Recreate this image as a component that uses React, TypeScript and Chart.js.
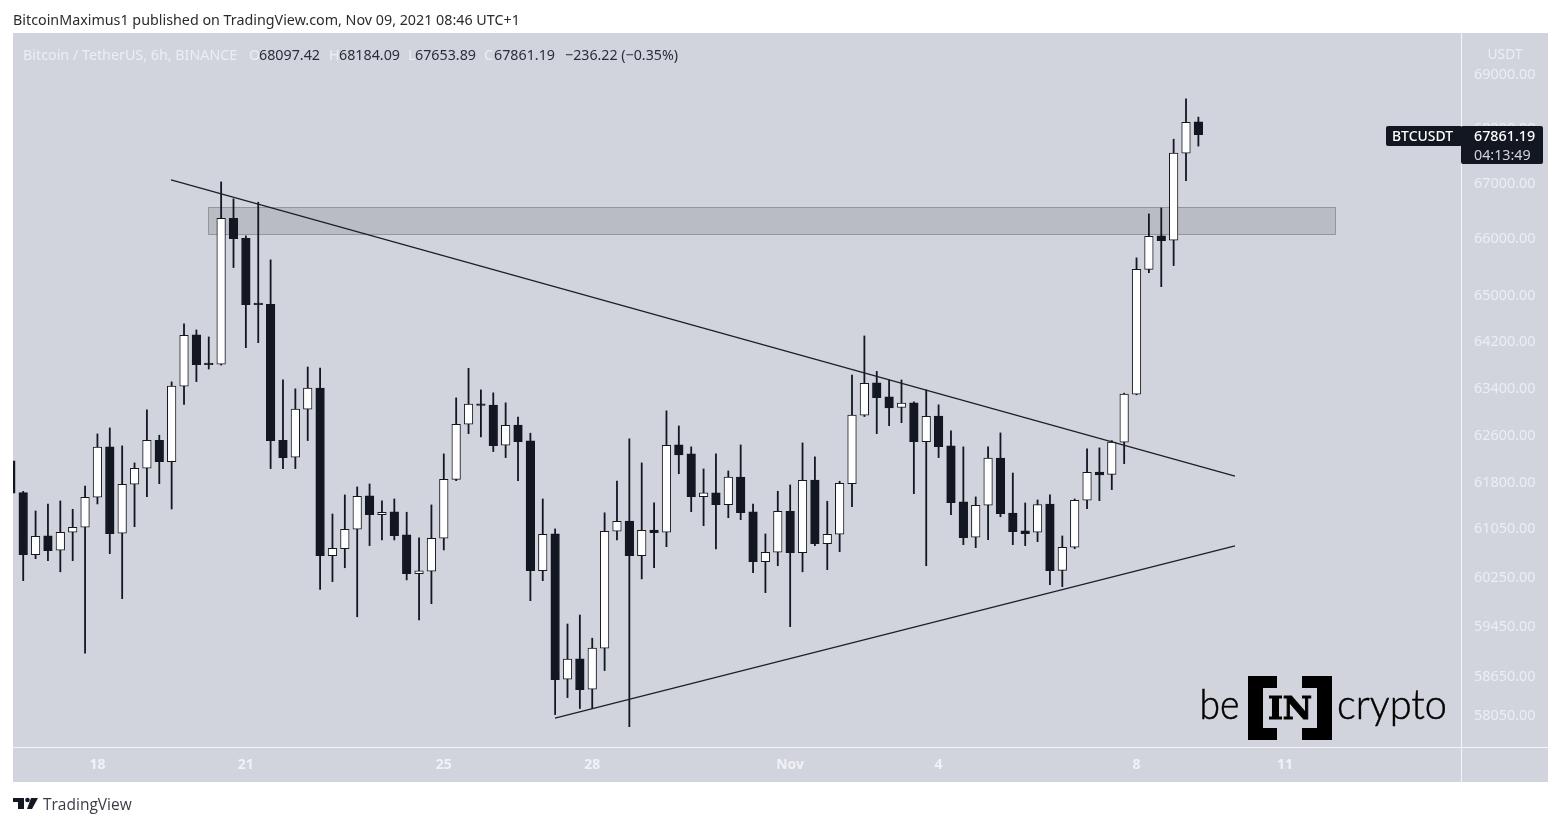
import React, { useEffect, useRef } from "react";
import { Chart, registerables } from "chart.js";

Chart.register(...registerables);

const firstCandle = -1;
const opens = [62149,
  61619, 60597, 60904, 60669, 60964, 61046, 61543, 62384, 60948, 61758,
  62026, 62496, 62137, 63413, 64295, 63795, 63789, 66350, 65994, 64835,
  64830, 62496, 62211, 63021, 63379, 60581, 60696, 61014, 61564, 61256,
  61299, 60920, 60288, 60327, 60866, 61841, 62765, 63112, 63090, 62412,
  62753, 62485, 60335, 60937, 58596, 58919, 58439, 59089, 60981, 61149,
  60581, 61002, 60964, 62417, 62266, 61553, 61614, 61420, 61880, 61299,
  60482, 60636, 61310, 60630, 61830, 60778, 60932, 61768, 62920, 63469,
  63231, 63049, 63129, 62473, 62906, 62401, 61465, 60882, 61410, 62194,
  61282, 60986, 60964, 61431, 60341, 60718, 61493, 61963, 61924, 62463,
  63277, 65443, 66035, 65959, 67525, 68097.42];
const highs = [62200,
  61640, 61315, 61431, 61481, 61343, 61730, 62602, 62703, 62401, 62115,
  63010, 62580, 63486, 64486, 64382, 64261, 67003, 66697, 66035, 66638,
  65610, 63520, 63367, 63742, 63725, 61265, 61581, 61714, 61763, 61481,
  61514, 61294, 60871, 61415, 62266, 63214, 63720, 63350, 63299, 63129,
  62889, 62614, 61514, 61019, 59475, 59619, 59248, 61285, 61813, 62518,
  62115, 61448, 62993, 62737, 62384, 62014, 62266, 61980, 62417, 61431,
  60937, 61642, 61747, 62451, 62216, 61476, 61808, 63605, 64278, 63667,
  63520, 63520, 63146, 63350, 63095, 62653, 62384, 61548, 62384, 62619,
  61946, 61448, 61498, 61581, 60904, 61514, 62350, 62367, 62490, 63294,
  65645, 66427, 66535, 67779, 68519, 68184.09];
const lows = [61600,
  60174, 60532, 60499, 60318, 60499, 59009, 61431, 60614, 59883, 61056,
  61553, 61768, 61348, 63100, 63491, 63707, 63775, 65474, 64076, 64162,
  62020, 62020, 62020, 62490, 60032, 60158, 60384, 59591, 60745, 60838,
  60838, 60186, 59542, 59802, 60674, 61818, 62607, 62552, 62305, 62204,
  61818, 59850, 60174, 58040, 58307, 58135, 58135, 58733, 60838, 57851,
  60202, 60384, 60728, 61934, 61304, 61073, 60691, 61204, 61172, 60304,
  59980, 60417, 59432, 60318, 60745, 60353, 60646, 61387, 62896, 62607,
  62742, 62792, 61602, 60417, 62204, 61254, 60761, 60712, 60843, 61220,
  60761, 60745, 60810, 60109, 60077, 60695, 61354, 61486, 61669, 62103,
  63265, 65383, 65138, 65509, 67026, 67653.89];
const closes = [61609,
  60597, 60899, 60663, 60964, 61046, 61543, 62379, 60942, 61758, 62026,
  62496, 62137, 63413, 64290, 63782, 63782, 66350, 65987, 64823, 64823,
  62490, 62204, 63021, 63379, 60581, 60702, 61014, 61559, 61256, 61294,
  60909, 60288, 60332, 60866, 61841, 62765, 63107, 63083, 62406, 62748,
  62473, 60335, 60932, 58590, 58914, 58433, 59089, 60981, 61144, 60581,
  60997, 60958, 62412, 62249, 61553, 61614, 61420, 61880, 61287, 60482,
  60636, 61310, 60630, 61825, 60778, 60932, 61775, 62920, 63464, 63219,
  63044, 63124, 62473, 62901, 62389, 61453, 60876, 61410, 62194, 61270,
  60974, 60942, 61420, 60335, 60718, 61493, 61958, 61913, 62463, 63277,
  65443, 66029, 65952, 67525, 68089, 67861.19];

const priceTicks = [69000, 68000, 67000, 66000, 65000, 64200, 63400, 62600, 61800, 61050, 60250, 59450, 58650, 58050];
const timeTickIndex = [6, 18, 34, 46, 62, 74, 90, 102];
const timeTickLabels = ["18", "21", "25", "28", "Nov", "4", "8", "11"];

const resistanceX = [14.95, 106.05];
const resistancePrices = [66550, 66065];
const upperLineX = [11.95, 97.96];
const upperLinePrices = [67038, 61895];
const lowerLineX = [42.99, 97.96];
const lowerLinePrices = [57985, 60739];

const authorLine = "BitcoinMaximus1 published on TradingView.com, Nov 09, 2021 08:46 UTC+1";
const symbolLine = "Bitcoin / TetherUS, 6h, BINANCE";
const ohlcLabels = ["O", "H", "L", "C"];
const ohlcValues = ["68097.42", "68184.09", "67653.89", "67861.19"];
const changeText = "\u2212236.22 (\u22120.35%)";
const symbolTag = "BTCUSDT";
const lastPrice = "67861.19";
const countdown = "04:13:49";
const currency = "USDT";

const DARK = "#131722";
const PANEL = "#d1d4dc";
const PALE = "#eceef2";
const UI = '"Noto Sans", sans-serif';

const overlay = {
  id: "overlay",
  beforeDraw(chart: any) {
    const { ctx, width, height } = chart;
    ctx.save();
    ctx.fillStyle = "#ffffff";
    ctx.fillRect(0, 0, width, height);
    ctx.fillStyle = PANEL;
    ctx.fillRect(13, 33, 1535, 749);
    ctx.fillStyle = "#f4f5f7";
    ctx.fillRect(13, 747, 1535, 1);
    ctx.fillRect(1461, 33, 1, 749);
    ctx.restore();
  },
  beforeDatasetsDraw(chart: any) {
    const { ctx, scales } = chart;
    const x0 = Math.round(scales.x.getPixelForValue(resistanceX[0])) + 0.5;
    const x1 = Math.round(scales.x.getPixelForValue(resistanceX[1])) + 0.5;
    const y0 = Math.round(scales.y.getPixelForValue(resistancePrices[0])) + 0.5;
    const y1 = Math.round(scales.y.getPixelForValue(resistancePrices[1])) + 0.5;
    ctx.save();
    ctx.fillStyle = "#babcc4";
    ctx.strokeStyle = "#94969d";
    ctx.lineWidth = 1;
    ctx.fillRect(x0, y0, x1 - x0, y1 - y0);
    ctx.strokeRect(x0, y0, x1 - x0, y1 - y0);
    ctx.restore();
  },
  afterDraw(chart: any) {
    const { ctx } = chart;
    ctx.save();
    ctx.textBaseline = "middle";
    ctx.textAlign = "left";

    ctx.font = `14.3px ${UI}`;
    ctx.fillStyle = "#2b2b2b";
    ctx.fillText(authorLine, 13, 20.5);

    ctx.fillStyle = PALE;
    ctx.fillText(symbolLine, 23, 55.5, 217);
    const labelX = [249, 329, 408, 484];
    const valueX = [259, 339, 415, 494];
    ohlcLabels.forEach((t, i) => {
      ctx.fillStyle = PALE;
      ctx.fillText(t, labelX[i], 55.5);
      ctx.fillStyle = "#2a2e39";
      ctx.fillText(ohlcValues[i], valueX[i], 55.5, 61);
    });
    ctx.fillText(changeText, 565, 55.5, 113);

    ctx.fillStyle = PALE;
    ctx.textAlign = "center";
    ctx.fillText(currency, 1505, 54.5, 35);
    ctx.textAlign = "left";

    ctx.fillStyle = DARK;
    ctx.beginPath();
    ctx.roundRect(1386, 126, 76, 20, 2);
    ctx.roundRect(1461, 126, 82, 38, 2);
    ctx.fill();
    ctx.font = `500 14.3px ${UI}`;
    ctx.fillStyle = "#ffffff";
    ctx.fillText(symbolTag, 1392, 137, 61);
    ctx.fillText(lastPrice, 1474, 137, 62);
    ctx.font = `14.3px ${UI}`;
    ctx.fillStyle = PANEL;
    ctx.fillText(countdown, 1474, 155.5, 58);

    // beincrypto mark
    ctx.fillStyle = "#000000";
    ctx.strokeStyle = "#000000";
    ctx.font = "300 41px Lato, sans-serif";
    ctx.textBaseline = "alphabetic";
    ctx.lineWidth = 0.5;
    ctx.fillText("be", 1199.5, 719, 40);
    ctx.strokeText("be", 1199.5, 719, 40);
    ctx.fillText("crypto", 1337, 719, 110);
    ctx.strokeText("crypto", 1337, 719, 110);
    const bracket = (x: number, w: number, spine: number) => {
      ctx.fillRect(spine, 676, 15, 64);
      ctx.fillRect(x, 676, w, 12);
      ctx.fillRect(x, 728, w, 12);
    };
    bracket(1248, 29, 1248);
    bracket(1302, 30, 1317);
    ctx.font = 'bold 32px "DejaVu Serif", serif';
    ctx.textAlign = "center";
    ctx.lineWidth = 1;
    ctx.fillText("IN", 1290, 719, 47);
    ctx.strokeText("IN", 1290, 719, 47);

    // TradingView footer
    ctx.fillStyle = DARK;
    ctx.fillRect(13, 798, 11, 4);
    ctx.fillRect(18, 798, 6, 11);
    ctx.beginPath();
    ctx.arc(27.5, 800, 2.3, 0, Math.PI * 2);
    ctx.fill();
    ctx.beginPath();
    ctx.moveTo(31, 798);
    ctx.lineTo(38, 798);
    ctx.lineTo(32, 809);
    ctx.lineTo(27, 809);
    ctx.closePath();
    ctx.fill();
    ctx.font = '15.5px "Open Sans", sans-serif';
    ctx.textAlign = "left";
    ctx.textBaseline = "middle";
    ctx.fillStyle = "#3a3d45";
    ctx.fillText("TradingView", 43, 805.5);
    ctx.restore();
  },
};

export default function App() {
  const ref = useRef<HTMLCanvasElement | null>(null);
  useEffect(() => {
    const xs = opens.map((_, i) => firstCandle + i);
    const up = closes.map((c, i) => c >= opens[i]);
    const chart = new Chart(ref.current as HTMLCanvasElement, {
      type: "bar",
      data: {
        datasets: [
          {
            label: "wick",
            order: 3,
            grouped: false,
            barThickness: 1.15,
            backgroundColor: DARK,
            borderWidth: 0,
            data: xs.map((x, i) => ({ x, y: [lows[i], highs[i]] })),
          },
          {
            label: "body",
            order: 2,
            grouped: false,
            barThickness: 8.6,
            minBarLength: 1.5,
            backgroundColor: up.map((u) => (u ? "#ffffff" : DARK)),
            borderColor: DARK,
            borderWidth: 1,
            borderSkipped: false,
            data: xs.map((x, i) => ({ x, y: [opens[i], closes[i]] })),
          },
          {
            type: "line",
            label: "upper",
            order: 1,
            data: upperLineX.map((x, i) => ({ x, y: upperLinePrices[i] })),
            borderColor: "#1c1f27",
            borderWidth: 1.3,
            pointRadius: 0,
            tension: 0,
          },
          {
            type: "line",
            label: "lower",
            order: 1,
            data: lowerLineX.map((x, i) => ({ x, y: lowerLinePrices[i] })),
            borderColor: "#1c1f27",
            borderWidth: 1.3,
            pointRadius: 0,
            tension: 0,
          },
        ] as any,
      },
      options: {
        animation: false,
        responsive: false,
        devicePixelRatio: 1,
        layout: { padding: { left: 13, top: 33, right: 13, bottom: 44 } },
        plugins: { legend: { display: false }, title: { display: false }, tooltip: { enabled: false } },
        events: [],
        scales: {
          x: {
            type: "linear",
            min: -0.825,
            max: 116.23,
            offset: false,
            bounds: "data",
            grid: { display: false, drawTicks: false },
            border: { display: false },
            afterBuildTicks: (s: any) => {
              s.ticks = timeTickIndex.map((value) => ({ value }));
            },
            afterFit: (s: any) => {
              s.height = 35;
            },
            ticks: {
              autoSkip: false,
              maxRotation: 0,
              padding: 10,
              callback: (_v: any, i: number) => timeTickLabels[i],
              color: "#f1f2f5",
              font: { family: UI, size: 14, weight: "bold" },
            },
          },
          y: {
            type: "logarithmic",
            position: "right",
            min: 57535,
            max: 69748,
            bounds: "data",
            grid: { display: false, drawTicks: false },
            border: { display: false },
            afterBuildTicks: (s: any) => {
              s.ticks = priceTicks.map((value) => ({ value }));
            },
            afterFit: (s: any) => {
              s.width = 87;
            },
            ticks: {
              autoSkip: false,
              padding: 13,
              labelOffset: 1.5,
              callback: (v: any) => Number(v).toFixed(2),
              color: PALE,
              font: { family: UI, size: 14.4 },
            },
          },
        },
      } as any,
      plugins: [overlay],
    });
    return () => chart.destroy();
  }, []);
  return (
    <canvas
      ref={ref}
      width={1561}
      height={826}
      style={{ position: "absolute", left: 0, top: 0, display: "block" }}
    />
  );
}
